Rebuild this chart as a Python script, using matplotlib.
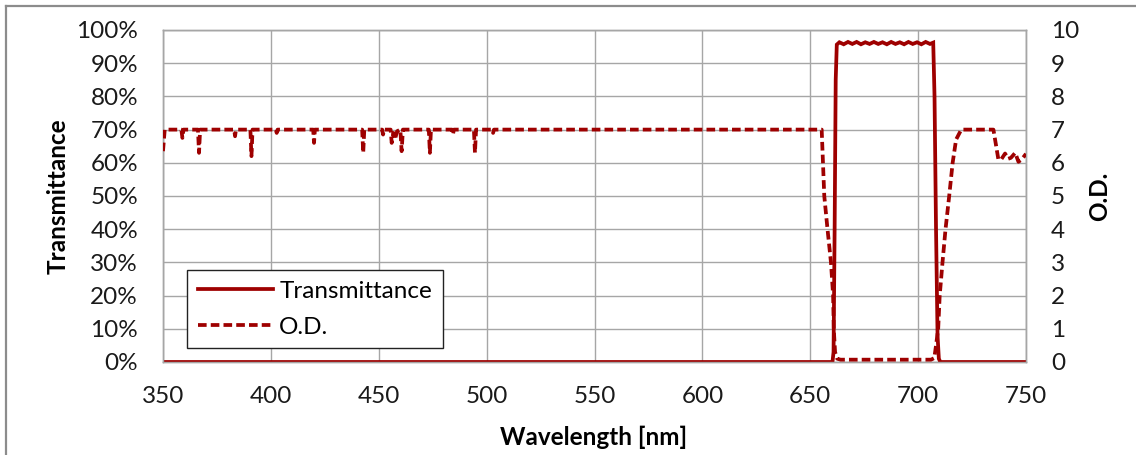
import matplotlib.pyplot as plt
from matplotlib.lines import Line2D
from matplotlib.ticker import FuncFormatter

plt.rcParams['font.family'] = ['Lato', 'DejaVu Sans']

# wavelength [nm] / transmittance [%]
t_wl = [350, 660.3, 660.8, 661.3, 661.8, 662.3, 663.5, 665.5, 667.5, 669.5,
        671.5, 673.5, 675.5, 677.5, 679.5, 681.5, 683.5, 685.5, 687.5, 689.5,
        691.5, 693.5, 695.5, 697.5, 699.5, 701.5, 703.5, 705.5, 707.0, 707.6,
        708.3, 709.0, 709.6, 710.3, 750]
t_val = [0, 0, 3, 40, 85, 95.6, 96.3, 95.7, 96.4, 95.8,
         96.4, 95.7, 96.3, 95.8, 96.4, 95.8, 96.3, 95.7, 96.4, 95.8,
         96.3, 95.7, 96.4, 95.8, 96.3, 95.7, 96.4, 95.8, 96.2, 80,
         40, 8, 1, 0, 0]

# wavelength [nm] / optical density
od_wl = [350, 350.8, 358.5, 359, 359.5, 366.2, 366.7, 367.2, 383, 383.4,
         383.8, 390.5, 391, 391.5, 402.3, 402.7, 403.1, 419.6, 420, 420.4,
         442.3, 442.8, 443.3, 451.6, 452, 452.4, 455.5, 456, 456.8, 457.5,
         458.5, 460, 460.6, 461.2, 473.2, 473.7, 474.2, 484, 484.4, 484.8,
         494.1, 494.6, 495.1, 502.6, 503, 503.4, 655.3, 656.5, 658, 659.6,
         660.6, 660.9, 661.5, 662.5, 664, 706, 707.5, 708.3, 709.3, 710,
         711.3, 712.7, 714.4, 716, 717.6, 720, 734.9, 737.2, 738.5, 740.3,
         741.7, 743, 745, 746.5, 748, 750]
od_val = [6.35, 7.0, 7.0, 6.75, 7.0, 7.0, 6.3, 7.0, 7.0, 6.8,
          7.0, 7.0, 6.2, 7.0, 7.0, 6.9, 7.0, 7.0, 6.6, 7.0,
          7.0, 6.3, 7.0, 7.0, 6.85, 7.0, 7.0, 6.6, 6.9, 6.7,
          6.95, 7.0, 6.35, 7.0, 7.0, 6.3, 7.0, 7.0, 6.85, 7.0,
          7.0, 6.3, 7.0, 7.0, 6.9, 7.0, 7.0, 5.0, 4.0, 3.0,
          2.0, 1.0, 0.3, 0.1, 0.07, 0.07, 0.12, 0.5, 1.0, 2.0,
          3.0, 4.0, 5.0, 6.0, 6.7, 7.0, 7.0, 6.1, 6.1, 6.28,
          6.12, 6.15, 6.3, 6.03, 6.1, 6.27]

red = '#9e0000'
grid = '#a6a6a6'
fs = 17.5

fig = plt.figure(figsize=(11.36, 4.55), dpi=100)
ax = fig.add_axes([163/1136, 1 - 362/455, 863/1136, 332/455])
ax2 = ax.twinx()

l1, = ax.plot(t_wl, t_val, color=red, lw=2.7, solid_joinstyle='miter', zorder=3)
l2, = ax2.plot(od_wl, od_val, color=red, lw=2.7, dashes=(2.3, 1.1), zorder=3)

ax.set_xlim(350, 750)
ax.set_ylim(0, 100)
ax2.set_ylim(0, 10)
ax.set_xticks(range(350, 751, 50))
ax.set_yticks(range(0, 101, 10))
ax2.set_yticks(range(0, 11, 1))
ax.yaxis.set_major_formatter(FuncFormatter(lambda v, p: '%d%%' % v))

ax.grid(True, color=grid, lw=1)
ax.set_axisbelow(True)
for a in (ax, ax2):
    for s in a.spines.values():
        s.set_color(grid)
        s.set_linewidth(1)
    a.tick_params(length=0, labelsize=fs, colors='#1a1a1a')
ax.tick_params(axis='y', pad=18)
ax.tick_params(axis='x', pad=17)
ax2.tick_params(axis='y', pad=18)

ax.set_xlabel('Wavelength [nm]', fontsize=fs, fontweight='bold', va='center')
ax.set_ylabel('Transmittance', fontsize=fs, fontweight='bold', va='center')
ax2.set_ylabel('O.D.', fontsize=fs, fontweight='bold', va='center')
ax.xaxis.set_label_coords((594 - 163) / 863, (362 - 437) / 332)
ax.yaxis.set_label_coords((58 - 163) / 863, 0.5)
ax2.yaxis.set_label_coords((1100 - 163) / 863, 0.5)

leg = ax.legend([l1, l2], ['Transmittance', 'O.D.'], loc='upper left',
                bbox_to_anchor=((187 - 163) / 863, (362 - 270) / 332),
                borderaxespad=0, fontsize=fs, handlelength=3.1,
                handletextpad=0.25, labelspacing=0.6, fancybox=False,
                framealpha=1, edgecolor='#222222', borderpad=0.45)
leg.get_frame().set_linewidth(1)
leg.set_zorder(5)

# outer chart border (cropped)
fig.add_artist(Line2D([6/1136, 1], [1 - 6/455, 1 - 6/455], color='#8c8c8c', lw=1.6))
fig.add_artist(Line2D([6/1136, 6/1136], [0, 1 - 6/455], color='#8c8c8c', lw=1.6))

fig.savefig('out.png', dpi=100)
